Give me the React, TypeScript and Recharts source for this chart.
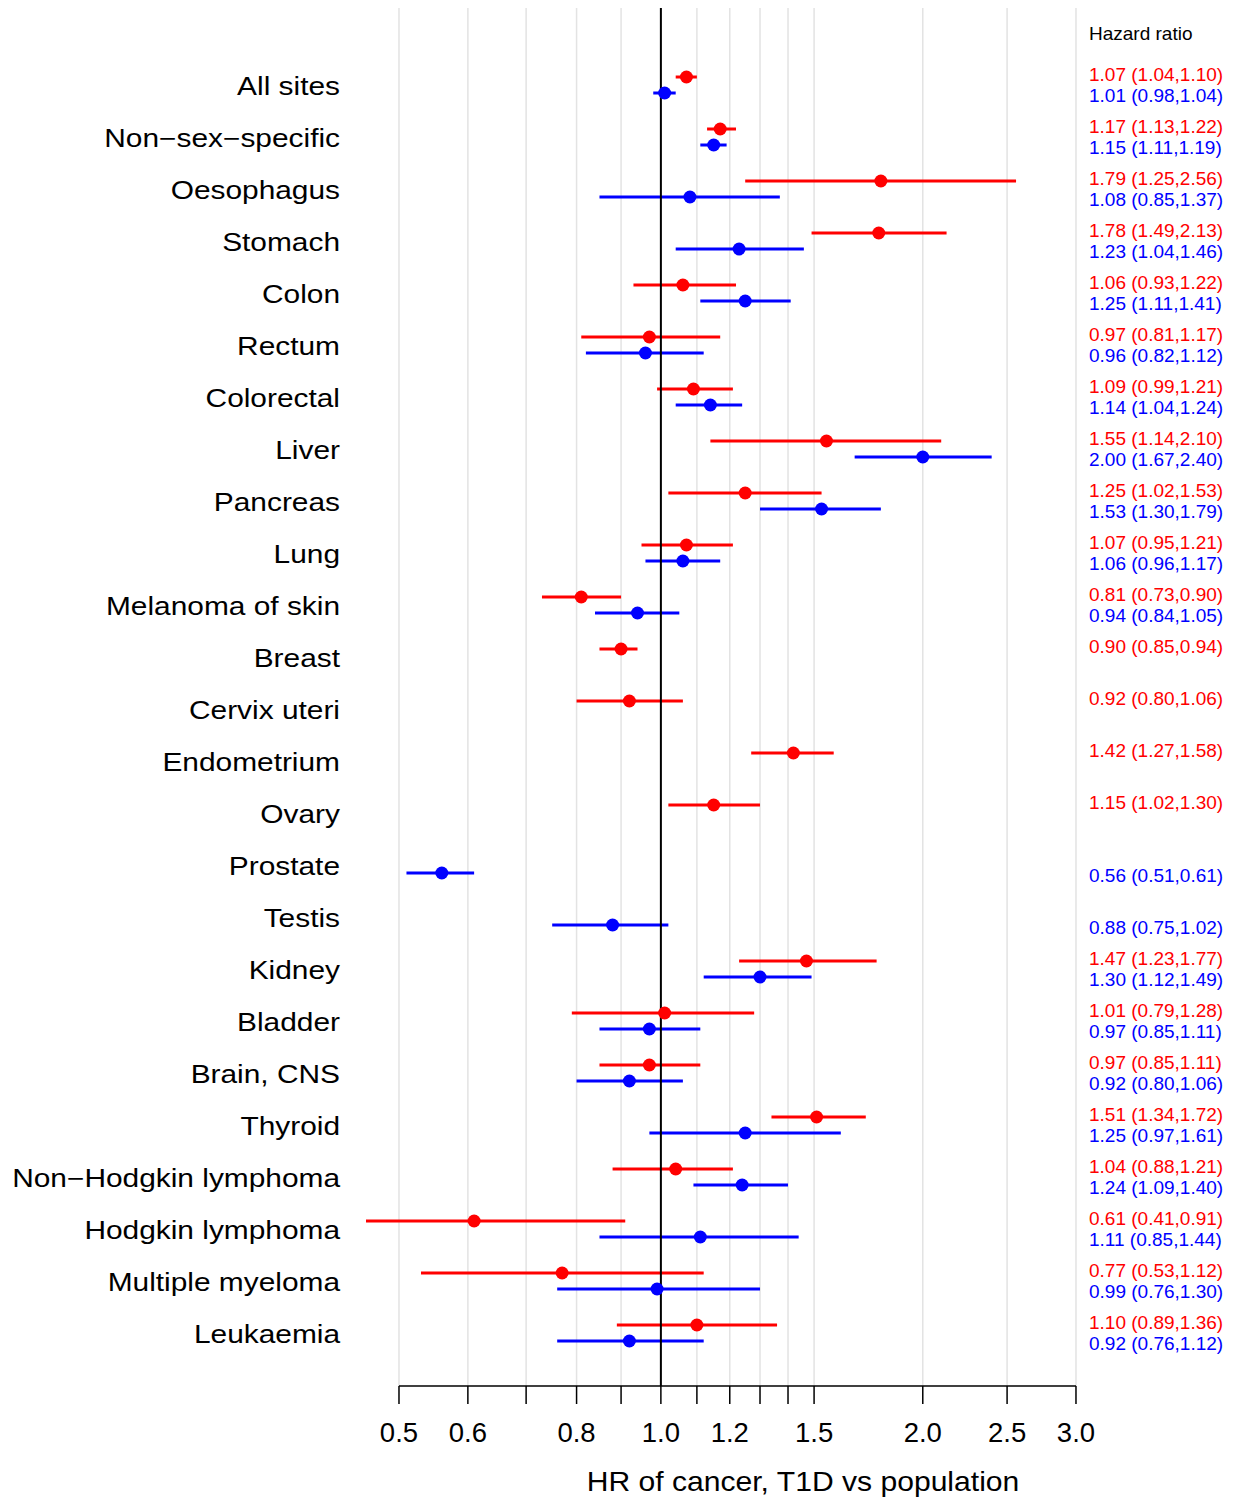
import React from 'react';
import { ScatterChart, Scatter, XAxis, YAxis, ReferenceLine } from 'recharts';

// cancer sites, top to bottom
const sites = [
    'All sites', 'Non−sex−specific', 'Oesophagus', 'Stomach', 'Colon', 'Rectum', 'Colorectal',
    'Liver', 'Pancreas', 'Lung', 'Melanoma of skin', 'Breast', 'Cervix uteri', 'Endometrium',
    'Ovary', 'Prostate', 'Testis', 'Kidney', 'Bladder', 'Brain, CNS', 'Thyroid',
    'Non−Hodgkin lymphoma', 'Hodgkin lymphoma', 'Multiple myeloma', 'Leukaemia'
];

// women (red)
const womenHR = [1.07, 1.17, 1.79, 1.78, 1.06, 0.97, 1.09, 1.55, 1.25, 1.07, 0.81, 0.90, 0.92, 1.42, 1.15, null, null, 1.47, 1.01, 0.97, 1.51, 1.04, 0.61, 0.77, 1.10];
const womenLo = [1.04, 1.13, 1.25, 1.49, 0.93, 0.81, 0.99, 1.14, 1.02, 0.95, 0.73, 0.85, 0.80, 1.27, 1.02, null, null, 1.23, 0.79, 0.85, 1.34, 0.88, 0.41, 0.53, 0.89];
const womenHi = [1.10, 1.22, 2.56, 2.13, 1.22, 1.17, 1.21, 2.10, 1.53, 1.21, 0.90, 0.94, 1.06, 1.58, 1.30, null, null, 1.77, 1.28, 1.11, 1.72, 1.21, 0.91, 1.12, 1.36];

// men (blue)
const menHR = [1.01, 1.15, 1.08, 1.23, 1.25, 0.96, 1.14, 2.00, 1.53, 1.06, 0.94, null, null, null, null, 0.56, 0.88, 1.30, 0.97, 0.92, 1.25, 1.24, 1.11, 0.99, 0.92];
const menLo = [0.98, 1.11, 0.85, 1.04, 1.11, 0.82, 1.04, 1.67, 1.30, 0.96, 0.84, null, null, null, null, 0.51, 0.75, 1.12, 0.85, 0.80, 0.97, 1.09, 0.85, 0.76, 0.76];
const menHi = [1.04, 1.19, 1.37, 1.46, 1.41, 1.12, 1.24, 2.40, 1.79, 1.17, 1.05, null, null, null, null, 0.61, 1.02, 1.49, 1.11, 1.06, 1.61, 1.40, 1.44, 1.30, 1.12];

const xTicks = [0.5, 0.6, 0.7, 0.8, 0.9, 1.0, 1.1, 1.2, 1.3, 1.4, 1.5, 2.0, 2.5, 3.0];
const xLabelled = [0.5, 0.6, 0.8, 1.0, 1.2, 1.5, 2.0, 2.5, 3.0];

const RED = '#ff0000';
const BLUE = '#0000ff';
const SHIFT = 8 / 52; // vertical offset of each series within a row
const TEXT_X = 1089;
const LABEL_RIGHT = 340;
const Y_DOMAIN = [-1.4808, 25.019];

const fmt = (v: number) => v.toFixed(2);

type Pt = { hr: number; lo: number; hi: number; row: number };

const buildSeries = (hr: (number | null)[], lo: (number | null)[], hi: (number | null)[], shift: number) =>
    hr.map((v, i) => (v == null ? null : {
        hr: v,
        lo: lo[i] as number,
        hi: hi[i] as number,
        row: i + shift
    })).filter(Boolean) as Pt[];

const women = buildSeries(womenHR, womenLo, womenHi, -SHIFT);
const men = buildSeries(menHR, menLo, menHi, SHIFT);

const rowTicks = [-1, ...sites.map((_, i) => i)];

const RowTick = (props: any) => {
    const { y, payload } = props;
    const i = payload.value;
    if (i < 0) {
        return <text x={TEXT_X} y={y + 7} fontSize={19} fill="#000">Hazard ratio</text>;
    }
    const w = womenHR[i];
    const m = menHR[i];
    return (
        <g>
            <text
                transform={`translate(${LABEL_RIGHT},${y + 10}) scale(1.195,1)`}
                textAnchor="end"
                fontSize={25}
                fill="#000">
                {sites[i]}
            </text>
            {w != null && (
                <text x={TEXT_X} y={y - 4.5} fontSize={19} fill={RED}>
                    {`${fmt(w)} (${fmt(womenLo[i] as number)},${fmt(womenHi[i] as number)})`}
                </text>
            )}
            {m != null && (
                <text x={TEXT_X} y={y + 16.5} fontSize={19} fill={BLUE}>
                    {`${fmt(m)} (${fmt(menLo[i] as number)},${fmt(menHi[i] as number)})`}
                </text>
            )}
        </g>
    );
};

const HrTick = (props: any) => {
    const { x, payload } = props;
    const v = payload.value;
    if (!xLabelled.some(t => Math.abs(t - v) < 1e-9)) return <g />;
    return (
        <text x={x} y={1442} textAnchor="middle" fontSize={27.5} fill="#000">
            {v.toFixed(1)}
        </text>
    );
};

const AxisTitle = () => (
    <text transform="translate(803,1491) scale(1.115,1)" textAnchor="middle" fontSize={27} fill="#000">
        HR of cancer, T1D vs population
    </text>
);

const dot = (color: string) => (p: any) => <circle cx={p.cx} cy={p.cy} r={6.5} fill={color} />;

const ciLines = (pts: Pt[], color: string, key: string) =>
    pts.map((p, i) => (
        <ReferenceLine
            key={`${key}-${i}`}
            segment={[{ x: p.lo, y: p.row }, { x: p.hi, y: p.row }]}
            stroke={color}
            strokeWidth={3}
            ifOverflow="hidden"
        />
    ));

const App = () => (
    <div style={{ position: 'absolute', left: 0, top: 0, fontFamily: '"Liberation Sans", Arial, sans-serif' }}>
        <ScatterChart width={1240} height={1503} margin={{ top: 8, right: 131, bottom: 0, left: 0 }}>
            <XAxis
                dataKey="hr"
                type="number"
                scale="log"
                domain={[0.4582, 3.274]}
                allowDataOverflow
                ticks={xTicks}
                interval={0}
                height={117}
                axisLine={false}
                tickLine={{ stroke: '#000', strokeWidth: 1.5 }}
                tickSize={18}
                tickMargin={0}
                tick={<HrTick />}
                label={{ content: <AxisTitle /> }}
            />
            <YAxis
                dataKey="row"
                type="number"
                reversed
                domain={Y_DOMAIN}
                allowDataOverflow
                ticks={rowTicks}
                interval={0}
                width={366}
                axisLine={false}
                tickLine={false}
                tick={<RowTick />}
            />
            {xTicks.map(t => (
                <ReferenceLine key={`grid-${t}`} x={t} stroke="#e3e3e3" strokeWidth={1.5} />
            ))}
            {ciLines(women, RED, 'w')}
            {ciLines(men, BLUE, 'm')}
            <ReferenceLine x={1} stroke="#000" strokeWidth={2} />
            <ReferenceLine
                segment={[{ x: 0.5, y: Y_DOMAIN[1] }, { x: 3.0, y: Y_DOMAIN[1] }]}
                stroke="#000"
                strokeWidth={1.5}
                ifOverflow="visible"
            />
            <Scatter data={women} fill={RED} shape={dot(RED)} isAnimationActive={false} />
            <Scatter data={men} fill={BLUE} shape={dot(BLUE)} isAnimationActive={false} />
        </ScatterChart>
    </div>
);

export default App;
